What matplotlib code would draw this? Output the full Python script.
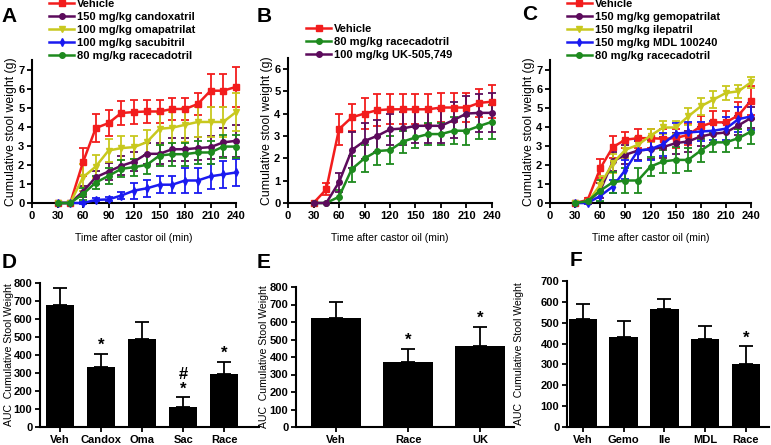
import numpy as np
import matplotlib
matplotlib.use("Agg")
import matplotlib.pyplot as plt

plt.rcParams['font.family'] = ['Liberation Sans', 'DejaVu Sans']

# time points (min)
t = [30, 45, 60, 75, 90, 105, 120, 135, 150, 165, 180, 195, 210, 225, 240]

# Panel A
a_veh = [0, 0, 2.14, 3.93, 4.19, 4.72, 4.77, 4.8, 4.8, 4.93, 4.93, 5.19, 5.89, 5.89, 6.09]
a_veh_e = [0, 0, 0.74, 0.74, 0.67, 0.63, 0.62, 0.58, 0.58, 0.56, 0.56, 0.58, 0.85, 0.85, 1.05]
a_can = [0, 0, 0.6, 1.35, 1.65, 1.95, 2.17, 2.58, 2.58, 2.82, 2.82, 2.88, 2.93, 3.18, 3.26]
a_can_e = [0, 0, 0.3, 0.35, 0.45, 0.5, 0.5, 0.55, 0.55, 0.6, 0.6, 0.6, 0.6, 0.75, 0.85]
a_oma = [0, 0, 1.35, 1.91, 2.75, 2.88, 2.93, 3.19, 3.89, 3.95, 4.1, 4.25, 4.25, 4.25, 4.77]
a_oma_e = [0, 0, 0.7, 0.62, 0.62, 0.65, 0.61, 0.65, 0.83, 0.82, 0.88, 0.8, 0.8, 0.8, 1.0]
a_sac = [0, 0, 0, 0.16, 0.19, 0.39, 0.65, 0.77, 0.96, 0.96, 1.18, 1.18, 1.4, 1.5, 1.6]
a_sac_e = [0, 0, 0.05, 0.1, 0.1, 0.2, 0.42, 0.45, 0.46, 0.46, 0.65, 0.65, 0.65, 0.7, 0.72]
a_race = [0, 0, 0.47, 1.07, 1.42, 1.79, 1.88, 2.0, 2.49, 2.56, 2.56, 2.65, 2.65, 2.96, 2.96]
a_race_e = [0, 0, 0.3, 0.35, 0.4, 0.45, 0.45, 0.5, 0.55, 0.6, 0.6, 0.6, 0.6, 0.6, 0.6]

# Panel B
b_veh = [0, 0.61, 3.31, 3.84, 4.01, 4.16, 4.2, 4.2, 4.2, 4.2, 4.28, 4.28, 4.28, 4.49, 4.54]
b_veh_e = [0, 0.27, 0.7, 0.62, 0.68, 0.72, 0.68, 0.68, 0.68, 0.68, 0.66, 0.66, 0.66, 0.64, 0.74]
b_race = [0, 0, 0.28, 1.52, 2.0, 2.33, 2.37, 2.75, 2.94, 3.09, 3.09, 3.24, 3.24, 3.45, 3.64]
b_race_e = [0, 0, 0.3, 0.58, 0.6, 0.64, 0.63, 0.49, 0.48, 0.48, 0.48, 0.6, 0.65, 0.59, 0.75]
b_uk = [0, 0, 0.93, 2.37, 2.78, 3.01, 3.3, 3.34, 3.46, 3.46, 3.46, 3.72, 4.01, 4.04, 4.04]
b_uk_e = [0, 0, 0.43, 0.8, 0.79, 0.71, 0.71, 0.72, 0.75, 0.75, 0.75, 0.8, 0.8, 0.85, 0.87]

# Panel C
c_veh = [0, 0.16, 1.82, 2.93, 3.32, 3.4, 3.4, 3.37, 3.4, 3.58, 4.02, 4.23, 4.23, 4.6, 5.37]
c_veh_e = [0, 0.1, 0.5, 0.56, 0.43, 0.5, 0.5, 0.5, 0.5, 0.55, 0.52, 0.57, 0.57, 0.7, 0.75]
c_gem = [0, 0.05, 0.65, 2.18, 2.53, 2.75, 2.82, 2.93, 3.14, 3.23, 3.49, 3.63, 3.7, 4.07, 4.46]
c_gem_e = [0, 0.05, 0.4, 0.5, 0.5, 0.5, 0.5, 0.55, 0.55, 0.55, 0.5, 0.5, 0.5, 0.5, 0.55]
c_ile = [0, 0.05, 0.95, 2.09, 2.79, 3.05, 3.53, 3.96, 3.96, 4.54, 5.07, 5.42, 5.77, 5.86, 6.33]
c_ile_e = [0, 0.05, 0.45, 0.5, 0.45, 0.4, 0.35, 0.32, 0.32, 0.44, 0.43, 0.44, 0.35, 0.35, 0.28]
c_mdl = [0, 0, 0.37, 0.86, 1.74, 2.75, 2.82, 3.09, 3.63, 3.7, 3.75, 3.79, 3.9, 4.4, 4.54]
c_mdl_e = [0, 0.05, 0.3, 0.35, 0.5, 0.55, 0.55, 0.6, 0.55, 0.55, 0.5, 0.5, 0.6, 0.65, 0.7]
c_race = [0, 0.1, 0.65, 1.09, 1.18, 1.18, 1.91, 2.18, 2.26, 2.26, 2.75, 3.18, 3.18, 3.4, 3.75]
c_race_e = [0, 0.05, 0.55, 0.55, 0.65, 0.65, 0.5, 0.6, 0.7, 0.6, 0.6, 0.5, 0.5, 0.5, 0.65]

# Panel D-F (AUC)
d_labels = ['Veh', 'Candox', 'Oma', 'Sac', 'Race']
d_vals = [680, 334, 490, 112, 295]
d_err = [90, 71, 96, 52, 66]
d_marks = ['', '*', '', '#\n*', '*']

e_labels = ['Veh', 'Race', 'UK']
e_vals = [624, 370, 464]
e_err = [92, 75, 109]
e_marks = ['', '*', '*']

f_labels = ['Veh', 'Gemo', 'Ile', 'MDL', 'Race']
f_vals = [520, 430, 565, 420, 300]
f_err = [70, 77, 48, 66, 86]
f_marks = ['', '', '', '', '*']

RED = '#f21d1d'
PUR = '#5c0b5c'
YEL = '#c8c81e'
BLU = '#1a1af0'
GRN = '#1e8a1e'

W, H = 771, 445
fig = plt.figure(figsize=(W / 100, H / 100), dpi=100)


def ax_px(left, top, right, bottom):
    return fig.add_axes([left / W, 1 - bottom / H, (right - left) / W, (bottom - top) / H])


def style(ax):
    for s in ['top', 'right']:
        ax.spines[s].set_visible(False)
    for s in ['left', 'bottom']:
        ax.spines[s].set_linewidth(1.5)
    ax.tick_params(direction='out', length=3.5, width=1.3, labelsize=8, pad=2)
    for lab in ax.get_xticklabels() + ax.get_yticklabels():
        lab.set_fontweight('bold')


def line_panel(ax, series, ymax, yticks):
    for y, e, c, m, ms, lab in series:
        ax.errorbar(t, y, yerr=e, color=c, lw=0, elinewidth=1.3, capsize=3,
                    capthick=1.3, clip_on=False, zorder=2)
        ax.plot(t, y, color=c, marker=m, ms=ms, lw=1.8, label=lab, clip_on=False, zorder=3)
    ax.set_xlim(0, 240)
    ax.set_ylim(0, ymax)
    ax.set_xticks(range(0, 241, 30))
    ax.set_yticks(yticks)
    ax.set_ylabel('Cumulative stool weight (g)', fontsize=8.8, labelpad=1)
    ax.set_xlabel('Time after castor oil (min)', fontsize=7.5, labelpad=9)
    style(ax)


def bar_panel(ax, labels, vals, err, marks, ymax, xlim, label_x):
    x = np.arange(len(labels))
    ax.bar(x, vals, width=0.7, color='black', zorder=2)
    ax.errorbar(x, vals, yerr=[np.zeros(len(vals)), err], fmt='none', ecolor='black',
                elinewidth=1.3, capsize=5, capthick=1.3, zorder=1)
    for xi, v, e, mk in zip(x, vals, err, marks):
        if mk:
            ax.text(xi, v + e + 5, mk, ha='center', va='bottom', fontsize=12,
                    fontweight='bold', linespacing=0.95)
    ax.set_xlim(*xlim)
    ax.set_ylim(0, ymax)
    ax.set_xticks(x)
    ax.set_xticklabels(labels)
    ax.set_yticks(range(0, ymax + 1, 100))
    ax.set_ylabel('AUC  Cumulative Stool Weight', fontsize=7.6)
    ax.yaxis.set_label_coords(label_x, 0.5)
    ax.tick_params(axis='x', length=0, pad=5)
    style(ax)


leg_kw = dict(loc='upper left', frameon=False, handlelength=2.2,
              handletextpad=0.3, labelspacing=0.28, borderpad=0, borderaxespad=0,
              prop={'weight': 'bold', 'size': 8})

# A
axA = ax_px(32, 60, 236, 203)
line_panel(axA, [
    (a_veh, a_veh_e, RED, 's', 5, 'Vehicle'),
    (a_can, a_can_e, PUR, 'o', 4, '150 mg/kg candoxatril'),
    (a_oma, a_oma_e, YEL, 'v', 5, '100 mg/kg omapatrilat'),
    (a_sac, a_sac_e, BLU, 'd', 4, '100 mg/kg sacubitril'),
    (a_race, a_race_e, GRN, 'o', 4, '80 mg/kg racecadotril'),
], 7.5, range(0, 8))
axA.legend(bbox_to_anchor=(0.085, 1.43), **leg_kw)

# B
axB = ax_px(288, 58, 492, 203)
line_panel(axB, [
    (b_veh, b_veh_e, RED, 's', 5, 'Vehicle'),
    (b_race, b_race_e, GRN, 'o', 4, '80 mg/kg racecadotril'),
    (b_uk, b_uk_e, PUR, 'o', 4, '100 mg/kg UK-505,749'),
], 6.5, range(0, 7))
axB.legend(bbox_to_anchor=(0.09, 1.235), **leg_kw)

# C
axC = ax_px(550, 60, 751, 203)
line_panel(axC, [
    (c_veh, c_veh_e, RED, 's', 5, 'Vehicle'),
    (c_gem, c_gem_e, PUR, 'o', 4, '150 mg/kg gemopatrilat'),
    (c_ile, c_ile_e, YEL, 'v', 5, '150 mg/kg ilepatril'),
    (c_mdl, c_mdl_e, BLU, 'd', 4, '150 mg/kg MDL 100240'),
    (c_race, c_race_e, GRN, 'o', 4, '80 mg/kg racecadotril'),
], 7.5, range(0, 8))
axC.legend(bbox_to_anchor=(0.085, 1.43), **leg_kw)

# D, E, F
axD = ax_px(40, 283, 259, 427)
bar_panel(axD, d_labels, d_vals, d_err, d_marks, 800, (-0.49, 4.85), -0.12)
axE = ax_px(296, 287, 514, 427)
bar_panel(axE, e_labels, e_vals, e_err, e_marks, 800, (-0.56, 2.47), -0.125)
axF = ax_px(567, 281, 769, 427)
bar_panel(axF, f_labels, f_vals, f_err, f_marks, 700, (-0.39, 4.57), -0.215)

for letter, x, y in [('A', 9, 17), ('B', 264, 17), ('C', 530, 15),
                     ('D', 9, 263), ('E', 264, 263), ('F', 576, 261)]:
    fig.text(x / W, 1 - y / H, letter, fontsize=15, fontweight='bold',
             ha='center', va='center')

fig.savefig('out.png', dpi=100)
